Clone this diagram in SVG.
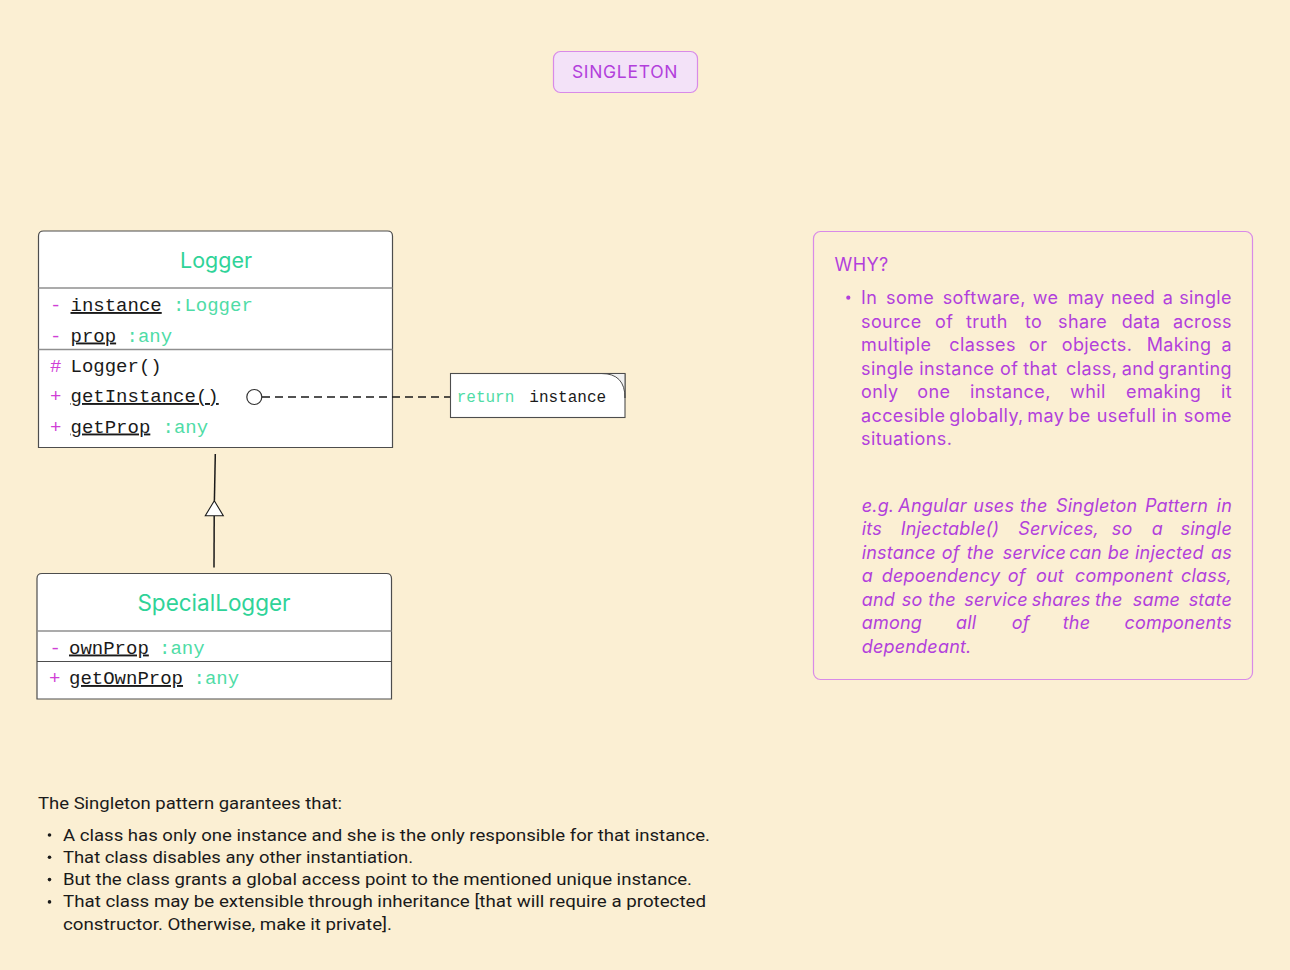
<svg xmlns="http://www.w3.org/2000/svg" width="1290" height="970" viewBox="0 0 1290 970">
<style>
.mono{font-family:"Liberation Mono","DejaVu Sans Mono",monospace;font-size:19px;fill:#1a1a1a}
.vis{fill:#d03fd6}
.typ{fill:#4fdca6}
.ul{text-decoration:underline}
.title{font-family:Inter,"Noto Sans",sans-serif;font-size:21.5px;fill:#2fd398;text-anchor:middle}
.box{fill:#ffffff;stroke:#4d4d4d;stroke-width:1.2}
.sep{stroke:#8f8f8f;stroke-width:1.6}
.why{font-family:Inter,"Noto Sans",sans-serif;font-size:18px;letter-spacing:0.4px;fill:#b23fdc}
.it{font-style:italic;letter-spacing:0.2px}
.foot{font-family:Roboto,"Liberation Sans",sans-serif;font-size:16px;fill:#1a1a1a}
</style>
<rect x="0" y="0" width="1290" height="970" fill="#fbefd3"/>

<g id="title-singleton">
<rect x="553.5" y="51.5" width="144" height="41" rx="7" fill="#f3e2f8" stroke="#d88ae8" stroke-width="1.2"/>
<text x="625" y="78" text-anchor="middle" style="font-family:Inter,'Noto Sans',sans-serif;font-size:17.5px;fill:#b23fdc;letter-spacing:0.7px">SINGLETON</text>
</g>

<g id="node-logger">
<path class="box" d="M38.5,447.5 L38.5,236 Q38.5,231 43.5,231 L387.5,231 Q392.5,231 392.5,236 L392.5,447.5 Z"/>
<line class="sep" x1="38.5" y1="288" x2="392.5" y2="288"/>
<line class="sep" x1="38.5" y1="349.5" x2="392.5" y2="349.5"/>
<text class="title" x="216" y="267.5">Logger</text>
<text class="mono vis" x="50" y="311">-</text>
<text class="mono" x="70.5" y="311"><tspan class="ul">instance</tspan></text>
<text class="mono typ" x="173" y="311">:Logger</text>
<text class="mono vis" x="50" y="341.5">-</text>
<text class="mono" x="70.5" y="341.5"><tspan class="ul">prop</tspan></text>
<text class="mono typ" x="126.5" y="341.5">:any</text>
<text class="mono vis" x="50" y="372">#</text>
<text class="mono" x="70.5" y="372">Logger()</text>
<text class="mono vis" x="50" y="402">+</text>
<text class="mono" x="70.5" y="402"><tspan class="ul">getInstance()</tspan></text>
<text class="mono vis" x="50" y="432.5">+</text>
<text class="mono" x="70.5" y="432.5"><tspan class="ul">getProp</tspan></text>
<text class="mono typ" x="162.5" y="432.5">:any</text>
</g>

<g id="node-note">
<rect x="450.5" y="373.5" width="174.5" height="44" fill="#ffffff" stroke="#4d4d4d" stroke-width="1.1"/>
<path d="M601.5,373.5 Q625,373.5 625,398 L625,373.5 Z" fill="#f1f1f1" stroke="#4d4d4d" stroke-width="1"/>
<text x="456.7" y="402" style="font-family:'Liberation Mono','DejaVu Sans Mono',monospace;font-size:16px"><tspan fill="#4fdca6">return</tspan></text>
<text x="529.3" y="402" style="font-family:'Liberation Mono','DejaVu Sans Mono',monospace;font-size:16px;fill:#1a1a1a">instance</text>
</g>

<g id="node-speciallogger">
<path class="box" d="M37,699 L37,578.5 Q37,573.5 42,573.5 L386.5,573.5 Q391.5,573.5 391.5,578.5 L391.5,699 Z"/>
<line class="sep" x1="37" y1="631" x2="391.5" y2="631"/>
<line x1="37" y1="661.5" x2="391.5" y2="661.5" stroke="#4d4d4d" stroke-width="1.2"/>
<text class="title" x="214" y="610.5" style="font-size:22.5px">SpecialLogger</text>
<text class="mono vis" x="49.5" y="653.5">-</text>
<text class="mono" x="69" y="653.5"><tspan class="ul">ownProp</tspan></text>
<text class="mono typ" x="159" y="653.5">:any</text>
<text class="mono vis" x="49" y="684">+</text>
<text class="mono" x="69" y="684"><tspan class="ul">getOwnProp</tspan></text>
<text class="mono typ" x="193.5" y="684">:any</text>
</g>

<g id="connectors">
<line x1="262" y1="397" x2="450" y2="397" stroke="#1a1a1a" stroke-width="1.3" stroke-dasharray="8,5"/>
<circle cx="254.3" cy="397" r="7.5" fill="#ffffff" stroke="#333333" stroke-width="1.2"/>
<line x1="215.3" y1="454" x2="214.4" y2="500.7" stroke="#1a1a1a" stroke-width="1.5"/>
<line x1="214.2" y1="515.7" x2="214" y2="567.5" stroke="#1a1a1a" stroke-width="1.5"/>
<path d="M214.3,500.7 L223.3,515.7 L205.3,515.7 Z" fill="#ffffff" stroke="#1a1a1a" stroke-width="1.1"/>
</g>

<g id="node-why">
<rect x="813.5" y="231.5" width="439" height="448" rx="7" fill="none" stroke="#d88ae8" stroke-width="1.2"/>
<text class="why" x="834.5" y="270.5">WHY?</text>
<circle cx="848.3" cy="297.7" r="2.1" fill="#b23fdc"/>
<text class="why" y="304"><tspan x="861">In</tspan><tspan x="886">some</tspan><tspan x="942.7">software,</tspan><tspan x="1032.7">we</tspan><tspan x="1067.7">may</tspan><tspan x="1111">need</tspan><tspan x="1162.7">a</tspan></text>
<text class="why" y="304" x="1232" text-anchor="end">single</text>
<text class="why" y="327.5"><tspan x="861">source</tspan><tspan x="935">of</tspan><tspan x="966">truth</tspan><tspan x="1025">to</tspan><tspan x="1058">share</tspan><tspan x="1121.7">data</tspan></text>
<text class="why" y="327.5" x="1232" text-anchor="end">across</text>
<text class="why" y="351"><tspan x="861">multiple</tspan><tspan x="949.3">classes</tspan><tspan x="1029">or</tspan><tspan x="1061.7">objects.</tspan><tspan x="1146.7">Making</tspan></text>
<text class="why" y="351" x="1232" text-anchor="end">a</text>
<text class="why" y="374.5"><tspan x="861">single</tspan><tspan x="919.3">instance</tspan><tspan x="1000">of</tspan><tspan x="1023.3">that</tspan><tspan x="1066">class,</tspan><tspan x="1121.7">and</tspan></text>
<text class="why" y="374.5" x="1232" text-anchor="end">granting</text>
<text class="why" y="398"><tspan x="861">only</tspan><tspan x="917.3">one</tspan><tspan x="970">instance,</tspan><tspan x="1070">whil</tspan><tspan x="1126">emaking</tspan></text>
<text class="why" y="398" x="1232" text-anchor="end">it</text>
<text class="why" y="421.5"><tspan x="861">accesible</tspan><tspan x="949.3">globally,</tspan><tspan x="1027.3">may</tspan><tspan x="1068.3">be</tspan><tspan x="1096.7">usefull</tspan><tspan x="1161.7">in</tspan></text>
<text class="why" y="421.5" x="1232" text-anchor="end">some</text>
<text class="why" y="445" x="861">situations.</text>

<text class="why it" y="511.7"><tspan x="861.7">e.g.</tspan><tspan x="898.3">Angular</tspan><tspan x="973.3">uses</tspan><tspan x="1020">the</tspan><tspan x="1056">Singleton</tspan><tspan x="1145">Pattern</tspan></text>
<text class="why it" y="511.7" x="1232" text-anchor="end">in</text>
<text class="why it" y="535.2"><tspan x="861.7">its</tspan><tspan x="900.7">Injectable()</tspan><tspan x="1018.3">Services,</tspan><tspan x="1111.7">so</tspan><tspan x="1151.7">a</tspan></text>
<text class="why it" y="535.2" x="1232" text-anchor="end">single</text>
<text class="why it" y="558.7"><tspan x="861.7">instance</tspan><tspan x="941.7">of</tspan><tspan x="966.7">the</tspan><tspan x="1002.7">service</tspan><tspan x="1069.3">can</tspan><tspan x="1107.7">be</tspan><tspan x="1135">injected</tspan></text>
<text class="why it" y="558.7" x="1232" text-anchor="end">as</text>
<text class="why it" y="582.2"><tspan x="861.7">a</tspan><tspan x="881.7">depoendency</tspan><tspan x="1007.7">of</tspan><tspan x="1036">out</tspan><tspan x="1075">component</tspan></text>
<text class="why it" y="582.2" x="1232" text-anchor="end">class,</text>
<text class="why it" y="605.7"><tspan x="861.7">and</tspan><tspan x="901.7">so</tspan><tspan x="928.3">the</tspan><tspan x="964.3">service</tspan><tspan x="1031.7">shares</tspan><tspan x="1095">the</tspan><tspan x="1132.7">same</tspan></text>
<text class="why it" y="605.7" x="1232" text-anchor="end">state</text>
<text class="why it" y="629.2"><tspan x="861.7">among</tspan><tspan x="956">all</tspan><tspan x="1011.7">of</tspan><tspan x="1062.7">the</tspan></text>
<text class="why it" y="629.2" x="1232" text-anchor="end">components</text>
<text class="why it" y="652.7" x="861.7">dependeant.</text>
</g>

<g id="node-footnote">
<text class="foot" x="38" y="808.5" textLength="304" lengthAdjust="spacingAndGlyphs">The Singleton pattern garantees that:</text>
<circle cx="49.5" cy="835" r="1.8" fill="#1a1a1a"/>
<circle cx="49.5" cy="857.3" r="1.8" fill="#1a1a1a"/>
<circle cx="49.5" cy="879.6" r="1.8" fill="#1a1a1a"/>
<circle cx="49.5" cy="901.9" r="1.8" fill="#1a1a1a"/>
<text class="foot" x="63" y="840.5" textLength="647" lengthAdjust="spacingAndGlyphs">A class has only one instance and she is the only responsible for that instance.</text>
<text class="foot" x="63" y="862.8" textLength="350" lengthAdjust="spacingAndGlyphs">That class disables any other instantiation.</text>
<text class="foot" x="63" y="885.1" textLength="629" lengthAdjust="spacingAndGlyphs">But the class grants a global access point to the mentioned unique instance.</text>
<text class="foot" x="63" y="907.4" textLength="643" lengthAdjust="spacingAndGlyphs">That class may be extensible through inheritance [that will require a protected</text>
<text class="foot" x="63" y="929.7" textLength="329" lengthAdjust="spacingAndGlyphs">constructor. Otherwise, make it private].</text>
</g>
</svg>
